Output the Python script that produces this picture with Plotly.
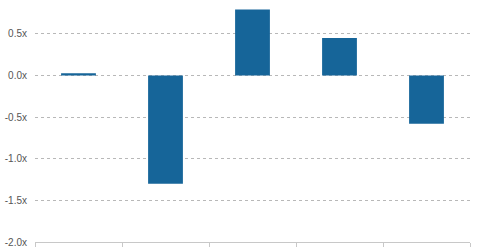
import plotly.graph_objects as go

categories = ["2014", "2015", "2016", "2017", "2018"]
values = [0.025, -1.30, 0.79, 0.45, -0.58]
y_tickvals = [-2.0, -1.5, -1.0, -0.5, 0.0, 0.5]
y_ticktext = ["-2.0x", "-1.5x", "-1.0x", "-0.5x", "0.0x", "0.5x"]

fig = go.Figure(
    go.Bar(x=categories, y=values, marker=dict(color="#166599", line=dict(width=0)), width=0.4)
)
fig.update_layout(
    width=480, height=251,
    margin=dict(l=35, r=10, t=0, b=9),
    paper_bgcolor="white", plot_bgcolor="white",
    showlegend=False,
    font=dict(family="Liberation Sans, Arial, sans-serif", size=10, color="#555555"),
)
fig.update_yaxes(
    range=[-2.0, 0.905], automargin=False,
    tickvals=y_tickvals, ticktext=y_ticktext,
    showgrid=True, gridcolor="#b8b8b8", griddash="dot", gridwidth=1,
    zeroline=False, showline=False, ticks="", ticklabelstandoff=7,
)
fig.update_xaxes(
    type="category", automargin=False,
    showgrid=False, showline=True, linecolor="#c8c8c8", linewidth=1,
    ticks="outside", tickson="boundaries", ticklen=4, tickcolor="#c8c8c8",
    showticklabels=False,
)
fig.write_html("out.html")
